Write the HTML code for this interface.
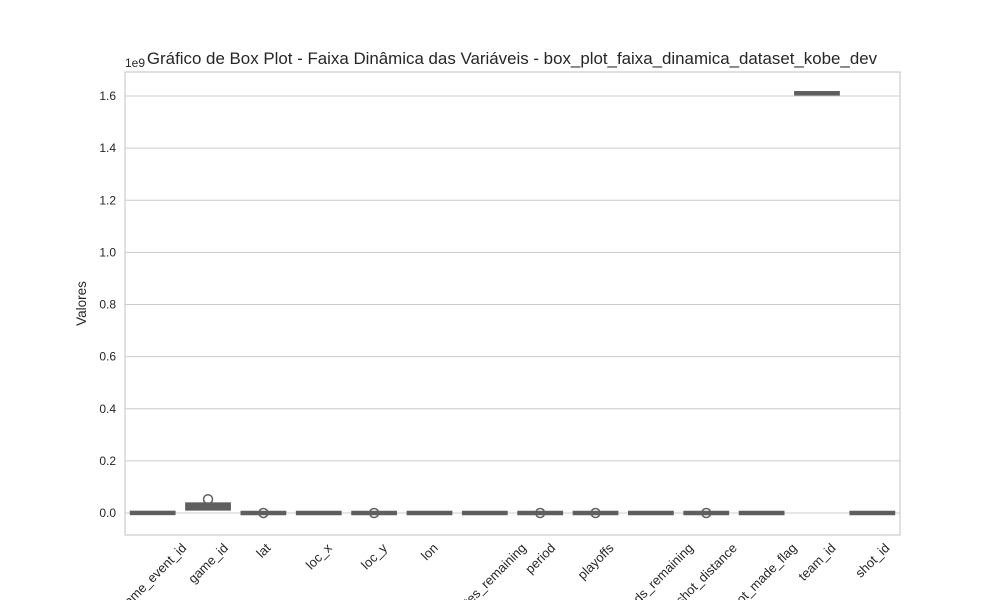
<!DOCTYPE html>
<html><head><meta charset="utf-8"><style>
body{margin:0;background:#fff;font-family:"Liberation Sans",Arial,sans-serif}
svg text{font-family:"Liberation Sans",Arial,sans-serif;fill:#262626}
</style></head><body>
<svg id="c" width="1000" height="600"></svg>
<script>
const categories=["game_event_id","game_id","lat","loc_x","loc_y","lon","minutes_remaining","period","playoffs","seconds_remaining","shot_distance","shot_made_flag","team_id","shot_id"];
const q1s=[0.0002,0.012,0,0,0,0,0,0,0,0,0,0,1.6106,0.00001];
const medians=[0.0003,0.03,0,0,0,0,0,0,0,0,0,0,1.6106,0.00002];
const q3s=[0.0004,0.038,0,0,0,0,0,0,0,0,0,0,1.6106,0.00003];
const whiskLo=[0,0.012,0,0,0,0,0,0,0,0,0,0,1.6106,0];
const whiskHi=[0.0007,0.04,0,0,0,0,0,0,0,0,0,0,1.6106,0.00003];
const outliers=[[],[0.053],[0],[],[0],[],[],[0],[0],[],[0],[],[],[]];
const yTicks=[0,0.2,0.4,0.6,0.8,1.0,1.2,1.4,1.6];
const NS="http://www.w3.org/2000/svg",svg=document.getElementById('c');
const L=125,R=900,T=72,B=535;
const y=v=>513-v*260.6;
const step=(R-L)/categories.length;
const x=i=>L+step*(i+0.5);
function el(t,a,p){const e=document.createElementNS(NS,t);for(const k in a)e.setAttribute(k,a[k]);(p||svg).appendChild(e);return e;}
yTicks.forEach(v=>{
 const g=el('line',{x1:L,x2:R,y1:y(v),y2:y(v),stroke:'#cccccc','stroke-width':1});
 
 
 const t=el('text',{x:L-9,y:y(v)+4,'text-anchor':'end','font-size':12});
 t.textContent=v.toFixed(1);
 
 
});
const fr=el('rect',{x:L,y:T,width:R-L,height:B-T,fill:'none',stroke:'#cccccc','stroke-width':1.2});


const col='#5f5f5f',w=step*0.8;
categories.forEach((c,i)=>{
 const g=el('g',{});
 
 
 el('line',{x1:x(i),x2:x(i),y1:y(whiskLo[i]),y2:y(whiskHi[i]),stroke:col,'stroke-width':1.5},g);
 const top=y(q3s[i]),bot=y(q1s[i]);
 const h=Math.max(bot-top,3);
 el('rect',{x:x(i)-w/2,y:(top+bot)/2-h/2,width:w,height:h,fill:col,stroke:col,'stroke-width':1.5},g);
 outliers[i].forEach(o=>{el('circle',{cx:x(i),cy:y(o),r:4.5,fill:'none',stroke:col,'stroke-width':1.5},g);});
 const t=el('text',{x:0,y:0,'text-anchor':'middle','font-size':13});
 t.textContent=c;
 const len=t.getComputedTextLength();
 const cy=B+6+(len*0.7071+13*0.7071)/2;
 t.setAttribute('transform',`translate(${x(i)},${cy}) rotate(-45)`);
 t.setAttribute('dy','4.5');
 
 
});
const yl=el('text',{x:0,y:0,'text-anchor':'middle','font-size':13.5,transform:`translate(86,${(T+B)/2}) rotate(-90)`});
yl.textContent='Valores';


const off=el('text',{x:125,y:67,'font-size':12});
off.textContent='1e9';


const tt=el('text',{x:512,y:64,'text-anchor':'middle','font-size':16.9});
tt.textContent='Gráfico de Box Plot - Faixa Dinâmica das Variáveis -  box_plot_faixa_dinamica_dataset_kobe_dev';
tt.setAttribute('xml:space','preserve');


</script>
</body></html>
